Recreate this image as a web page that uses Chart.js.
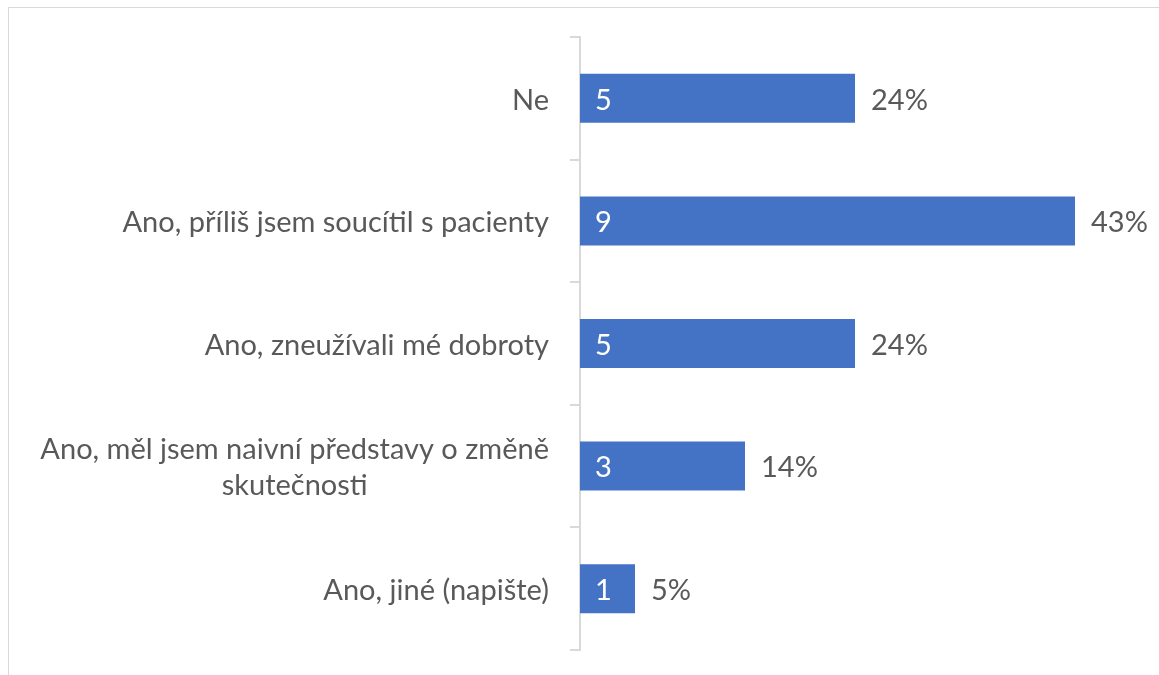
<!DOCTYPE html>
<html>
<head>
<meta charset="utf-8">
<script src="https://cdn.jsdelivr.net/npm/chart.js@4"></script>
<style>
  html, body { margin: 0; padding: 0; background: #fff; overflow: hidden; }
  #frame {
    position: absolute; left: 8px; top: 7px; width: 1200px; height: 700px;
    border-top: 1.5px solid #d9d9d9; border-left: 1.5px solid #d9d9d9;
  }
  #wrap { position: absolute; left: 0; top: 0; width: 1159px; height: 675px; }
</style>
</head>
<body>
<div id="frame"></div>
<div id="wrap"><canvas id="chart"></canvas></div>
<script>
// answers and counts
const categories = [
    "Ne",
    "Ano, příliš jsem soucítil s pacienty",
    "Ano, zneužívali mé dobroty",
    ["Ano, měl jsem naivní představy o změně", "skutečnosti"],
    "Ano, jiné (napište)"
];
const counts = [5, 9, 5, 3, 1];
const percents = ["24%", "43%", "24%", "14%", "5%"];

const FONT = "Lato";
const FONT_SIZE = 29;
const TEXT_COLOR = "#595959";

// category labels: right aligned block, lines centered inside it
const categoryLabels = {
    id: "categoryLabels",
    afterDraw(chart) {
        const ctx = chart.ctx;
        const y = chart.scales.y;
        const right = y.right - 31;
        ctx.save();
        ctx.font = FONT_SIZE + "px " + FONT;
        ctx.fillStyle = TEXT_COLOR;
        ctx.textAlign = "center";
        ctx.textBaseline = "middle";
        const lineH = 36;
        categories.forEach((label, i) => {
            const lines = Array.isArray(label) ? label : [label];
            const widest = Math.max(...lines.map(l => ctx.measureText(l).width));
            const cy = y.getPixelForValue(i) + 2;
            const top = cy - (lines.length - 1) * lineH / 2;
            lines.forEach((l, k) => ctx.fillText(l, right - widest / 2, top + k * lineH));
        });
        ctx.restore();
    }
};

// count inside the bar, percentage after it
const valueLabels = {
    id: "valueLabels",
    afterDatasetsDraw(chart) {
        const ctx = chart.ctx;
        const meta = chart.getDatasetMeta(0);
        ctx.save();
        ctx.font = FONT_SIZE + "px " + FONT;
        ctx.textBaseline = "middle";
        ctx.textAlign = "left";
        meta.data.forEach((bar, i) => {
            ctx.fillStyle = "#ffffff";
            ctx.fillText(String(counts[i]), bar.base + 15, bar.y + 2);
            ctx.fillStyle = TEXT_COLOR;
            ctx.fillText(percents[i], bar.x + 16, bar.y + 2);
        });
        ctx.restore();
    }
};

new Chart(document.getElementById("chart"), {
    type: "bar",
    data: {
        labels: categories,
        datasets: [{
            data: counts,
            backgroundColor: "#4472c4",
            borderWidth: 0,
            barPercentage: 0.8,
            categoryPercentage: 0.5
        }]
    },
    options: {
        indexAxis: "y",
        responsive: true,
        maintainAspectRatio: false,
        animation: false,
        layout: { padding: { top: 37, bottom: 25, left: 0, right: 29 } },
        plugins: { legend: { display: false }, tooltip: { enabled: false } },
        scales: {
            x: { display: false, min: 0, max: 10 },
            y: {
                afterFit(scale) { scale.width = 580; },
                ticks: { display: false },
                grid: {
                    drawOnChartArea: false,
                    drawTicks: true,
                    tickLength: 10,
                    color: "#d9d9d9",
                    lineWidth: 2
                },
                border: { color: "#d9d9d9", width: 2 }
            }
        }
    },
    plugins: [categoryLabels, valueLabels]
});
</script>
</body>
</html>
